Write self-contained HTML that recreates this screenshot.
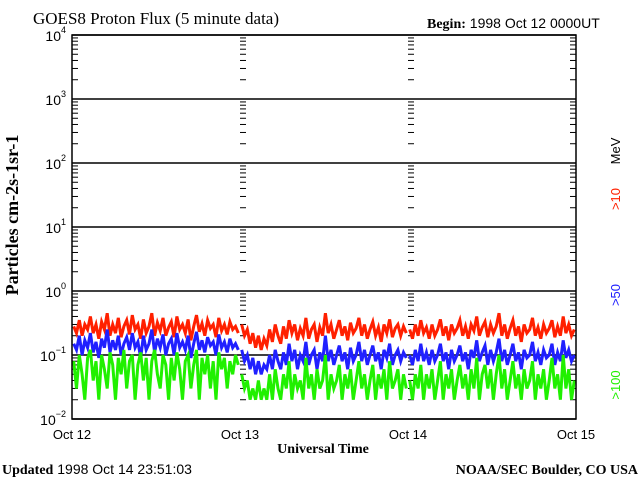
<!DOCTYPE html>
<html><head><meta charset="utf-8"><style>
body{margin:0;background:#fff;}
svg{display:block;}
.serif{font-family:"Liberation Serif",serif;}
.sans{font-family:"Liberation Sans",sans-serif;}
</style></head><body>
<svg id="chart" width="640" height="480" viewBox="0 0 640 480" xmlns="http://www.w3.org/2000/svg">
<rect width="640" height="480" fill="#fff"/>
<text x="33" y="24" class="serif" font-size="17">GOES8 Proton Flux (5 minute data)</text>
<text x="427" y="28" font-size="14"><tspan class="serif" font-weight="bold">Begin:</tspan><tspan class="sans"> 1998 Oct 12 0000UT</tspan></text>
<text transform="translate(18,215) rotate(-90)" text-anchor="middle" class="serif" font-size="18" font-weight="bold">Particles cm-2s-1sr-1</text>
<text x="323" y="453" text-anchor="middle" class="serif" font-size="14" font-weight="bold">Universal Time</text>
<text x="2" y="474" font-size="14"><tspan class="serif" font-weight="bold">Updated</tspan><tspan class="sans"> 1998 Oct 14 23:51:03</tspan></text>
<text x="638" y="474" text-anchor="end" class="serif" font-size="14" font-weight="bold">NOAA/SEC Boulder, CO USA</text>
<text transform="translate(620,151) rotate(-90)" text-anchor="middle" class="sans" font-size="13">MeV</text>
<text transform="translate(620,199) rotate(-90)" text-anchor="middle" class="sans" font-size="13" fill="#ff2000">&gt;10</text>
<text transform="translate(620,295) rotate(-90)" text-anchor="middle" class="sans" font-size="13" fill="#2020ff">&gt;50</text>
<text transform="translate(620,385) rotate(-90)" text-anchor="middle" class="sans" font-size="13" fill="#20f000">&gt;100</text>
<g id="axes"></g>
<g id="series"></g>
<rect x="72" y="35" width="504" height="384" fill="none" stroke="#000" stroke-width="1.5"/>
</svg>
<script>
const dayLabels = ["Oct 12","Oct 13","Oct 14","Oct 15"];
const decadeExps = [-2,-1,0,1,2,3,4];
const red1=[.28,.22,.35,.2,.3,.25,.4,.22,.3,.18,.33,.25,.45,.2,.3,.22,.38,.19,.28,.35,.21,.42,.25,.3,.18,.36,.22,.28,.45,.2,.32,.24,.38,.2,.27,.33,.19,.4,.25,.3,.22,.36,.17,.28,.42,.23,.31,.2,.35,.26,.3,.19,.38,.24,.3,.21,.33,.25,.28,.22];
const red2=[.3,.2,.25,.15,.22,.13,.2,.12,.18,.14,.25,.16,.3,.2,.15,.28,.18,.35,.22,.3,.17,.26,.2,.38,.18,.25,.3,.16,.27,.2,.45,.22,.3,.18,.25,.35,.2,.28,.17,.32,.22,.26,.38,.2,.3,.18,.25,.33,.2,.27,.16,.3,.22,.36,.19,.26,.3,.2,.28,.22];
const red3=[.25,.18,.3,.2,.35,.22,.27,.18,.3,.2,.25,.36,.2,.28,.17,.3,.22,.26,.35,.2,.28,.18,.3,.24,.4,.2,.27,.33,.19,.3,.22,.28,.45,.2,.3,.18,.26,.35,.2,.28,.16,.3,.22,.25,.38,.2,.27,.18,.3,.22,.26,.35,.19,.28,.2,.4,.22,.3,.2,.25];
const blue1=[.15,.12,.2,.1,.17,.13,.22,.11,.16,.09,.18,.13,.25,.11,.17,.12,.2,.1,.15,.19,.12,.22,.13,.16,.09,.2,.12,.15,.25,.11,.18,.13,.21,.1,.15,.18,.1,.22,.13,.16,.12,.2,.09,.15,.23,.12,.17,.11,.19,.14,.16,.1,.21,.13,.16,.11,.18,.13,.15,.12];
const blue2=[.12,.08,.1,.06,.09,.05,.08,.05,.07,.06,.1,.06,.12,.08,.06,.11,.07,.15,.08,.12,.06,.1,.08,.16,.07,.1,.12,.06,.11,.08,.2,.08,.12,.07,.1,.14,.08,.11,.06,.13,.08,.1,.16,.08,.12,.07,.1,.14,.08,.11,.06,.12,.09,.15,.07,.1,.12,.08,.11,.09];
const blue3=[.1,.07,.12,.08,.15,.08,.11,.07,.12,.08,.1,.15,.08,.11,.06,.12,.08,.1,.14,.08,.11,.06,.12,.09,.17,.08,.11,.14,.07,.12,.08,.11,.18,.08,.12,.07,.1,.15,.08,.11,.06,.12,.09,.1,.16,.08,.11,.07,.12,.09,.1,.15,.07,.11,.08,.17,.09,.12,.08,.1];
const green1=[.08,.03,.1,.05,.02,.09,.12,.04,.08,.02,.1,.06,.03,.11,.07,.02,.09,.05,.12,.03,.08,.1,.02,.07,.11,.04,.09,.02,.08,.12,.05,.03,.1,.07,.02,.09,.04,.11,.06,.02,.08,.1,.03,.07,.12,.02,.09,.05,.1,.03,.08,.02,.11,.06,.09,.03,.08,.05,.1,.07];
const green2=[.05,.03,.04,.02,.03,.02,.04,.02,.03,.02,.05,.02,.06,.03,.02,.05,.03,.08,.02,.05,.03,.04,.02,.09,.03,.05,.02,.06,.03,.04,.1,.02,.05,.03,.04,.07,.02,.05,.03,.06,.02,.04,.08,.03,.05,.02,.04,.07,.02,.05,.03,.06,.02,.08,.03,.04,.06,.02,.05,.03];
const green3=[.04,.02,.05,.03,.07,.02,.05,.03,.06,.02,.04,.08,.02,.05,.03,.06,.02,.04,.07,.03,.05,.02,.06,.03,.09,.02,.05,.07,.03,.06,.02,.05,.1,.03,.06,.02,.04,.08,.03,.05,.02,.06,.03,.04,.08,.02,.05,.03,.06,.02,.04,.09,.03,.05,.02,.1,.03,.06,.02,.04];

const NS="http://www.w3.org/2000/svg";
const X0=72,X1=576,Y0=35,Y1=419;
const dayW=(X1-X0)/3;
function yScale(v){return Y1-(Math.log10(v)+2)*(Y1-Y0)/6;}
function xScale(day,frac){return X0+(day+frac)*dayW;}
const axes=document.getElementById('axes');
function mk(tag,attrs,parent){const e=document.createElementNS(NS,tag);for(const k in attrs)e.setAttribute(k,attrs[k]);parent.appendChild(e);return e;}

decadeExps.forEach(ex=>{
  const y=yScale(Math.pow(10,ex));
  const g=mk('line',{x1:X0,x2:X1,y1:y,y2:y,stroke:'#000','stroke-width':1.5},axes);
  
  
  const t=mk('text',{x:66,y:y+6,'text-anchor':'end','font-family':'Liberation Sans, sans-serif','font-size':14},axes);
  
  
  t.textContent='10';
  const s=mk('tspan',{dy:-8,'font-size':9},t);
  s.textContent=String(ex).replace('-','\u2212');
  if(ex<4){
    for(let m=2;m<=9;m++){
      const yy=yScale(m*Math.pow(10,ex));
      [X0,X0+dayW,X0+2*dayW].forEach(xx=>{
        const tk=mk('line',{x1:xx,x2:xx+6,y1:yy,y2:yy,stroke:'#000','stroke-width':1},axes);
        
        
      });
      const tr=mk('line',{x1:X1-6,x2:X1,y1:yy,y2:yy,stroke:'#000','stroke-width':1},axes);
      
      
    }
  }
});
dayLabels.forEach((lab,i)=>{
  const t=mk('text',{x:X0+i*dayW,y:439,'text-anchor':'middle','font-family':'Liberation Sans, sans-serif','font-size':13},axes);
  
  
  t.textContent=lab;
});

const seriesG=document.getElementById('series');
const series=[
  {name:'gt10',color:'#ff2000',days:[red1,red2,red3]},
  {name:'gt50',color:'#2020ff',days:[blue1,blue2,blue3]},
  {name:'gt100',color:'#20f000',days:[green1,green2,green3]}
];
series.forEach(s=>{
  s.days.forEach((arr,d)=>{
    const pts=arr.map((v,i)=>xScale(d,0.01+0.98*i/(arr.length-1)).toFixed(1)+','+yScale(v).toFixed(1)).join(' ');
    const p=mk('polyline',{points:pts,fill:'none',stroke:s.color,'stroke-width':3,'stroke-linejoin':'miter'},seriesG);
    
    
  });
});
</script>
</body></html>
